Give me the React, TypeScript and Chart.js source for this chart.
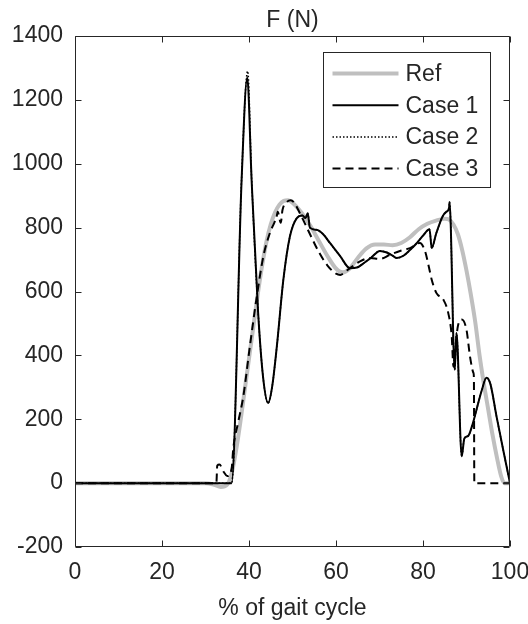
import React, { useEffect, useRef } from "react";
import { Chart, registerables } from "chart.js";

Chart.register(...registerables);

const chartTitle = "F (N)";
const xAxisTitle = "% of gait cycle";
const seriesLabels = ["Ref", "Case 1", "Case 2", "Case 3"];
const xTickValues = [0, 20, 40, 60, 80, 100];
const yTickValues = [-200, 0, 200, 400, 600, 800, 1000, 1200, 1400];

const refX = [0, 30, 32, 33.5, 35, 36, 37, 38, 39, 40, 41, 42, 43, 44, 45, 46, 47, 48, 49, 50, 52, 54, 56, 58, 60, 61.5, 63, 65, 67, 69, 71, 73, 75, 77, 79, 81, 83, 85, 86, 87, 88, 89, 90, 91, 92, 93, 94, 95, 96, 97, 98, 98.7, 100];
const refY = [0, 0, -5, -12, -5, 30, 100, 190, 290, 390, 490, 590, 680, 755, 810, 848, 872, 884, 886, 878, 848, 808, 760, 712, 672, 660, 670, 705, 735, 747, 747, 745, 752, 770, 795, 812, 822, 828, 825, 810, 780, 730, 665, 590, 505, 400, 310, 230, 150, 80, 20, 0, 0];

const case1X = [0, 36, 38.3, 39.6, 40.6, 42.1, 43.3, 44.4, 45.3, 46.4, 47.9, 49.4, 51, 52.3, 53, 53.5, 54, 55.5, 57, 58.6, 61, 63.2, 64.8, 66.5, 68, 70.1, 71.7, 73, 74, 75.5, 77, 78.6, 80, 81.5, 82, 83, 84.5, 85.4, 86, 86.1, 87.3, 87.7, 88.9, 89.5, 90.4, 91.3, 92.3, 93.5, 94.6, 95.5, 96.9, 98.5, 100];
const case1Y = [0, 0, 949, 1270, 949, 533, 324, 251, 300, 428, 637, 772, 830, 838, 830, 845, 800, 793, 780, 752, 710, 673, 675, 690, 705, 727, 722, 712, 705, 712, 730, 752, 775, 795, 736, 780, 835, 850, 862, 880, 355, 470, 84, 140, 148, 180, 230, 290, 330, 310, 209, 100, 0];

const case2X = [0, 36, 38.3, 39.7, 40.6, 42.1, 43.3, 44.4, 45.3, 46.4, 47.9, 49.4, 51, 52.3, 53, 53.5, 54, 55.5, 57, 58.6, 61, 63.2, 64.8, 66.5, 68, 70.1, 71.7, 73, 74, 75.5, 77, 78.6, 80, 81.5, 82, 83, 84.5, 85.4, 86, 86.1, 87.3, 87.7, 88.9, 89.5, 90.4, 91.3, 92.3, 93.5, 94.6, 95.5, 96.9, 98.5, 100];
const case2Y = [0, 0, 955, 1290, 955, 535, 324, 251, 300, 428, 637, 772, 830, 838, 830, 845, 800, 793, 780, 752, 710, 673, 675, 690, 705, 727, 722, 712, 705, 712, 730, 752, 775, 795, 736, 780, 835, 850, 862, 880, 355, 470, 84, 140, 148, 180, 230, 290, 330, 310, 209, 100, 0];

const case3X = [0, 32.5, 32.7, 33.2, 34.2, 35, 36, 36.4, 37.5, 38.7, 40.2, 41.8, 43.3, 44.8, 45.8, 46.3, 46.6, 47.3, 47.7, 48.7, 49.6, 50.4, 51.7, 54, 56, 58, 60, 61, 62, 63.2, 65.5, 67.8, 70.1, 72.4, 74.7, 77, 79.3, 80.5, 81.3, 82, 83.1, 84.7, 85.8, 86.6, 87, 87.5, 88, 88.9, 90, 90.8, 91.6, 91.7, 91.8, 100];
const case3Y = [0, 0, 55, 58, 35, 22, 45, 110, 190, 272, 428, 585, 710, 783, 815, 830, 850, 815, 855, 880, 886, 878, 845, 780, 725, 682, 656, 652, 660, 673, 694, 705, 702, 715, 727, 736, 752, 725, 680, 637, 595, 574, 533, 460, 365, 430, 490, 512, 480, 397, 345, 330, 0, 0];

const FONT = "'Liberation Sans', Arial, Helvetica, sans-serif";
const AXIS_COLOR = "#262626";

const toPoints = (xs: number[], ys: number[]) => xs.map((x, i) => ({ x, y: ys[i] }));

const framePlugin = {
  id: "matlabFrame",
  afterDatasetsDraw(chart: any) {
    const { ctx, chartArea, scales } = chart;
    const l = Math.round(chartArea.left) + 0.5;
    const r = Math.round(chartArea.right) - 0.5;
    const t = Math.round(chartArea.top) + 0.5;
    const b = Math.round(chartArea.bottom) - 0.5;
    ctx.save();
    ctx.strokeStyle = AXIS_COLOR;
    ctx.lineWidth = 1;
    ctx.beginPath();
    ctx.rect(l, t, r - l, b - t);
    const tl = 6;
    xTickValues.forEach((v) => {
      const px = Math.round(scales.x.getPixelForValue(v)) + 0.5;
      ctx.moveTo(px, b);
      ctx.lineTo(px, b - tl);
      ctx.moveTo(px, t);
      ctx.lineTo(px, t + tl);
    });
    yTickValues.forEach((v) => {
      const py = Math.round(scales.y.getPixelForValue(v)) + 0.5;
      ctx.moveTo(l, py);
      ctx.lineTo(l + tl, py);
      ctx.moveTo(r, py);
      ctx.lineTo(r - tl, py);
    });
    ctx.stroke();

    // legend
    const boxR = Math.round(chartArea.right) - 19.5;
    const boxL = boxR - 167;
    const boxT = Math.round(chartArea.top) + 16.5;
    const boxB = boxT + 135;
    ctx.fillStyle = "#ffffff";
    ctx.fillRect(boxL, boxT, boxR - boxL, boxB - boxT);
    ctx.strokeStyle = AXIS_COLOR;
    ctx.lineWidth = 1;
    ctx.setLineDash([]);
    ctx.strokeRect(boxL, boxT, boxR - boxL, boxB - boxT);
    const datasets = chart.data.datasets;
    datasets.forEach((ds: any, i: number) => {
      const yy = boxT + 21 + i * 31.7;
      ctx.save();
      ctx.strokeStyle = ds.borderColor;
      ctx.lineWidth = ds.borderWidth;
      ctx.setLineDash(ds.borderDash || []);
      ctx.beginPath();
      ctx.moveTo(boxL + 9, yy);
      ctx.lineTo(boxL + 75, yy);
      ctx.stroke();
      ctx.restore();
      ctx.fillStyle = AXIS_COLOR;
      ctx.font = `23px ${FONT}`;
      ctx.textAlign = "left";
      ctx.textBaseline = "middle";
      ctx.fillText(ds.label, boxL + 82, yy + 1);
    });
    ctx.restore();
  },
};

export default function App() {
  const canvasRef = useRef<HTMLCanvasElement | null>(null);

  useEffect(() => {
    if (!canvasRef.current) return;
    const chart = new Chart(canvasRef.current, {
      type: "line",
      data: {
        datasets: [
          {
            label: seriesLabels[0],
            data: toPoints(refX, refY),
            borderColor: "#bfbfbf",
            borderWidth: 4,
            pointRadius: 0,
            cubicInterpolationMode: "monotone",
            order: 4,
          },
          {
            label: seriesLabels[1],
            data: toPoints(case1X, case1Y),
            borderColor: "#000000",
            borderWidth: 2,
            pointRadius: 0,
            cubicInterpolationMode: "monotone",
            order: 3,
          },
          {
            label: seriesLabels[2],
            data: toPoints(case2X, case2Y),
            borderColor: "#000000",
            borderWidth: 1.5,
            borderDash: [1.5, 2],
            pointRadius: 0,
            cubicInterpolationMode: "monotone",
            order: 2,
          },
          {
            label: seriesLabels[3],
            data: toPoints(case3X, case3Y),
            borderColor: "#000000",
            borderWidth: 2,
            borderDash: [8, 5],
            pointRadius: 0,
            cubicInterpolationMode: "monotone",
            order: 1,
          },
        ],
      } as any,
      options: {
        responsive: false,
        animation: false,
        maintainAspectRatio: false,
        layout: { padding: { left: 0, right: 18, top: 0, bottom: 0 } },
        plugins: {
          legend: { display: false },
          tooltip: { enabled: false },
          title: {
            display: true,
            text: chartTitle,
            fullSize: false,
            color: AXIS_COLOR,
            font: { family: FONT, size: 23, weight: "normal" as any, lineHeight: 1.2 },
            padding: { top: 6.8, bottom: 1.6 },
          },
        },
        scales: {
          x: {
            type: "linear",
            min: 0,
            max: 100,
            grid: { display: false, drawTicks: false },
            border: { display: false },
            afterBuildTicks: (scale: any) => {
              scale.ticks = xTickValues.map((v) => ({ value: v }));
            },
            afterFit: (scale: any) => {
              scale.height = 77;
              scale.paddingLeft = 0;
              scale.paddingRight = 0;
            },
            ticks: {
              autoSkip: false,
              maxRotation: 0,
              padding: 12,
              color: AXIS_COLOR,
              font: { family: FONT, size: 23 },
              callback: (v: any) => String(v),
            },
            title: {
              display: true,
              text: xAxisTitle,
              color: AXIS_COLOR,
              font: { family: FONT, size: 23 },
              padding: { top: 0, bottom: 2 },
            },
          },
          y: {
            type: "linear",
            min: -200,
            max: 1400,
            grid: { display: false, drawTicks: false },
            border: { display: false },
            afterBuildTicks: (scale: any) => {
              scale.ticks = yTickValues.map((v) => ({ value: v }));
            },
            afterFit: (scale: any) => {
              scale.width = 75;
              scale.paddingTop = 0;
              scale.paddingBottom = 0;
            },
            ticks: {
              autoSkip: false,
              padding: 12,
              color: AXIS_COLOR,
              font: { family: FONT, size: 23 },
              callback: (v: any) => String(v),
            },
          },
        },
      } as any,
      plugins: [framePlugin],
    });
    return () => chart.destroy();
  }, []);

  return (
    <div style={{ position: "fixed", left: 0, top: 0, width: 528, height: 624, background: "#ffffff" }}>
      <canvas ref={canvasRef} width={528} height={624} style={{ display: "block" }} />
    </div>
  );
}
